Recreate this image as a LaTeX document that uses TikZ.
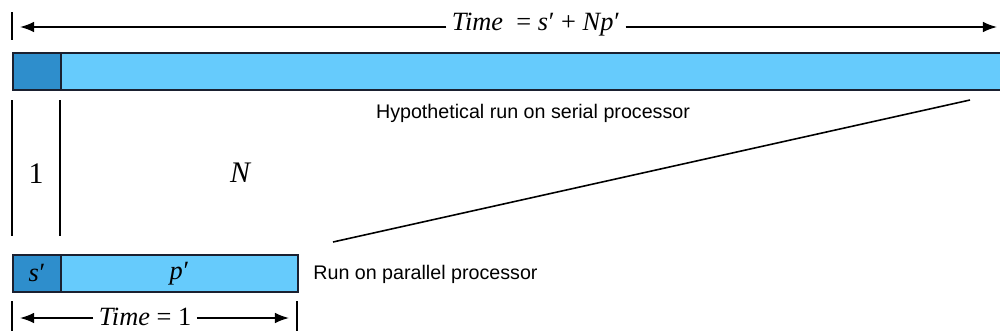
\documentclass[tikz,border=0pt]{standalone}
\usepackage{fontspec}
\setmainfont{Liberation Serif}
\newfontfamily\arialf{Liberation Sans}
\usetikzlibrary{arrows.meta}
\definecolor{darkb}{HTML}{2E8ECC}
\definecolor{lightb}{HTML}{66CBFC}
\definecolor{edge}{HTML}{1A2030}
\newcommand{\pr}{\kern0.5pt\textup{′}}
\tikzset{
  barbox/.style={draw=edge, line width=1.1pt, inner sep=0pt, anchor=north west, minimum height=0.74cm},
  tick/.style={line width=0.6pt},
  dimarrow/.style={line width=0.9pt, -{Latex[length=8pt,width=6pt]}},
  serif/.style={font=\fontsize{15}{17}\selectfont\itshape, inner sep=0pt},
  lab/.style={font=\arialf\fontsize{11.2}{13}\selectfont, inner sep=0pt}
}
\begin{document}
\begin{tikzpicture}[x=0.02cm, y=-0.02cm]
\useasboundingbox (0,0) rectangle (1000,335);
\fill[white] (0,0) rectangle (1000,335);
% serial bar
\node[barbox, fill=lightb, minimum width=18.8cm] (serP) at (60,52) {};
\node[barbox, fill=darkb, minimum width=0.96cm] (serS) at (12,52) {};
% parallel bar
\node[barbox, fill=lightb, minimum width=4.74cm] (parP) at (60,254) {};
\node[barbox, fill=darkb, minimum width=0.96cm] (parS) at (12,254) {};
\node[serif] at (parS.center) {s\pr};
\node[serif] at (parP.center) {p\pr};
% top dimension
\coordinate (tl) at (12,12); \coordinate (tlb) at (12,40);
\draw[tick] (tl) -- (tlb);
\node[font=\fontsize{15}{17}\selectfont, inner sep=3pt] (ttop) at (536,25) {\textit{Time}\ \ = \textit{s}\pr\ + \textit{Np}\pr};
\coordinate (al) at (20,27); \coordinate (ar) at (997,27);
\draw[dimarrow] (ttop.west |- al) -- (al);
\draw[dimarrow] (ttop.east |- ar) -- (ar);
% vertical lines and labels
\coordinate (v1a) at (12,100); \coordinate (v1b) at (12,236);
\coordinate (v2a) at (60,100); \coordinate (v2b) at (60,236);
\draw[line width=0.9pt] (v1a) -- (v1b);
\draw[line width=0.9pt] (v2a) -- (v2b);
\node[font=\fontsize{17}{19}\selectfont] (one) at (36,174) {1};
\node[font=\fontsize{17}{19}\selectfont\itshape] (nn) at (240,173) {N};
% texts
\node[lab] (hyp) at (533,113) {Hypothetical run on serial processor};
\node[lab, anchor=west] (runp) at (313,274) {Run on parallel processor};
% diagonal
\coordinate (d1) at (333,242); \coordinate (d2) at (970,100);
\draw[line width=0.9pt] (d1) -- (d2);
% bottom dimension
\coordinate (bl1) at (12,301); \coordinate (bl2) at (12,331);
\coordinate (br1) at (297,301); \coordinate (br2) at (297,331);
\draw[tick] (bl1) -- (bl2);
\draw[tick] (br1) -- (br2);
\node[font=\fontsize{15}{17}\selectfont, inner sep=3pt] (tbot) at (145,317) {\textit{Time} = 1};
\coordinate (bal) at (20,318); \coordinate (bar) at (289,318);
\draw[dimarrow] (tbot.west |- bal) -- (bal);
\draw[dimarrow] (tbot.east |- bar) -- (bar);
\end{tikzpicture}
\end{document}
